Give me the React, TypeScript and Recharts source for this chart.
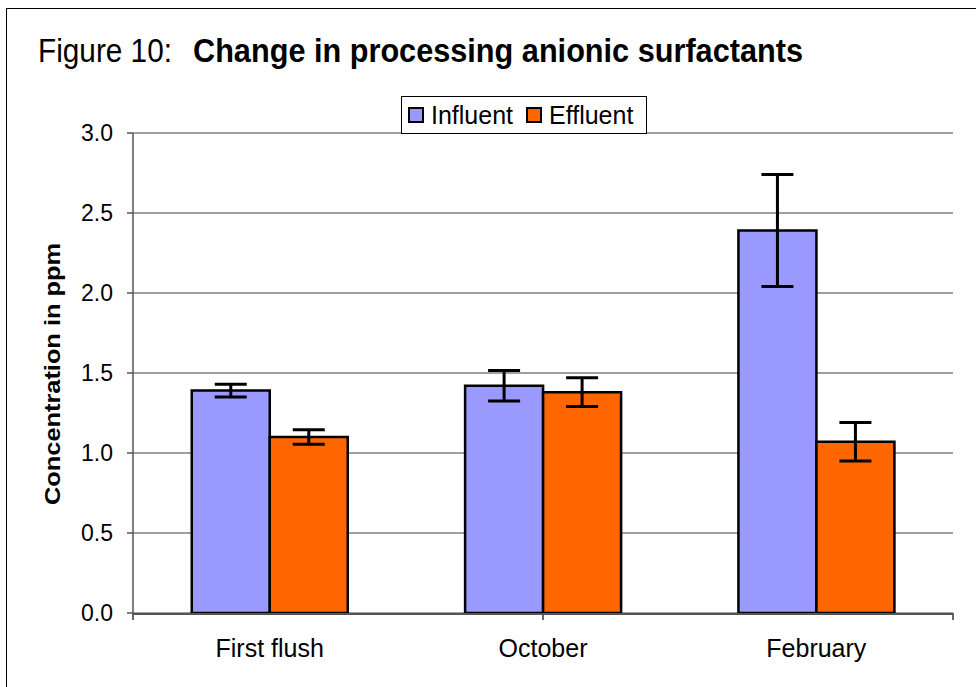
import React from "react";
import {
  BarChart,
  Bar,
  XAxis,
  YAxis,
  CartesianGrid,
  ErrorBar,
} from "recharts";

const categories = ["First flush", "October", "February"];
const influent = [1.39, 1.42, 2.39];
const influentErr = [0.04, 0.095, 0.35];
const effluent = [1.1, 1.38, 1.07];
const effluentErr = [0.045, 0.09, 0.12];
const yTicks = [0, 0.5, 1, 1.5, 2, 2.5, 3];
const boundaryTicks = [0, 1, 2, 3];

const data = categories.map((name, i) => ({
  name,
  influent: influent[i],
  influentErr: influentErr[i],
  effluent: effluent[i],
  effluentErr: effluentErr[i],
}));

const series = [
  { key: "influent", err: "influentErr", label: "Influent", color: "#9999ff" },
  { key: "effluent", err: "effluentErr", label: "Effluent", color: "#ff6600" },
];

const FONT = "'Liberation Sans', Arial, sans-serif";

export default function App() {
  return (
    <div
      style={{
        position: "absolute",
        left: 0,
        top: 0,
        width: 976,
        height: 687,
        background: "#fff",
        fontFamily: FONT,
      }}
    >
      <div
        style={{
          position: "absolute",
          left: 6,
          top: 8,
          right: 0,
          bottom: 0,
          borderLeft: "1px solid #000",
          borderTop: "1px solid #000",
        }}
      />
      <BarChart
        width={976}
        height={687}
        data={data}
        margin={{ top: 133, right: 23, left: 73, bottom: 34 }}
        barCategoryGap="21.5%"
        barGap={0}
      >
        <CartesianGrid
          xAxisId="cat"
          yAxisId="left"
          vertical={false}
          stroke="#808080"
          strokeWidth={1.5}
        />
        <XAxis
          xAxisId="bounds"
          type="number"
          domain={[0, categories.length]}
          ticks={boundaryTicks}
          tickFormatter={() => ""}
          axisLine={false}
          tickLine={{ stroke: "#333", strokeWidth: 1.5 }}
          tickSize={7}
          height={1}
        />
        <XAxis
          xAxisId="cat"
          dataKey="name"
          height={39}
          tickLine={false}
          axisLine={{ stroke: "#555", strokeWidth: 2 }}
          tick={{ fill: "#000", fontSize: 25, fontFamily: FONT }}
          tickMargin={19}
        />
        <YAxis
          yAxisId="left"
          width={60}
          domain={[0, 3]}
          ticks={yTicks}
          tickFormatter={(v: number) => v.toFixed(1)}
          tick={{ fill: "#000", fontSize: 23, fontFamily: FONT }}
          axisLine={{ stroke: "#555", strokeWidth: 1.5 }}
          tickLine={{ stroke: "#555", strokeWidth: 1.5 }}
          tickSize={6}
          tickMargin={14}
        />
        <YAxis
          yAxisId="right"
          orientation="right"
          width={0}
          tick={false}
          tickLine={false}
          axisLine={{ stroke: "#999", strokeWidth: 2 }}
        />
        {series.map((s) => (
          <Bar
            key={s.key}
            xAxisId="cat"
            yAxisId="left"
            dataKey={s.key}
            fill={s.color}
            stroke="#000"
            strokeWidth={2.5}
            isAnimationActive={false}
          >
            <ErrorBar
              dataKey={s.err}
              width={16}
              stroke="#000"
              strokeWidth={3}
              isAnimationActive={false}
            />
          </Bar>
        ))}
      </BarChart>
      <svg
        width={976}
        height={687}
        style={{ position: "absolute", left: 0, top: 0, pointerEvents: "none" }}
      >
        <text
          x={38}
          y={62}
          fontSize={34}
          textLength={134}
          lengthAdjust="spacingAndGlyphs"
          fontFamily={FONT}
          fill="#000"
        >
          Figure 10:
        </text>
        <text
          x={193}
          y={62}
          fontSize={33}
          fontWeight="bold"
          textLength={610}
          lengthAdjust="spacingAndGlyphs"
          fontFamily={FONT}
          fill="#000"
        >
          Change in processing anionic surfactants
        </text>
        <text
          x={0}
          y={0}
          transform="translate(60,374) rotate(-90)"
          textAnchor="middle"
          fontSize={22}
          fontWeight="bold"
          textLength={262}
          lengthAdjust="spacingAndGlyphs"
          fontFamily={FONT}
          fill="#000"
        >
          Concentration in ppm
        </text>
      </svg>
      <div
        style={{
          position: "absolute",
          left: 401,
          top: 96,
          width: 246,
          height: 38,
          border: "1px solid #000",
          background: "#fff",
          display: "flex",
          alignItems: "center",
          boxSizing: "border-box",
          paddingLeft: 6,
          fontSize: 25,
          lineHeight: 1,
        }}
      >
        {series.map((s) => (
          <span
            key={s.key}
            style={{ display: "flex", alignItems: "center", marginRight: 13 }}
          >
            <span
              style={{
                display: "inline-block",
                width: 12,
                height: 12,
                background: s.color,
                border: "2px solid #000",
                marginRight: 7,
              }}
            />
            {s.label}
          </span>
        ))}
      </div>
    </div>
  );
}
